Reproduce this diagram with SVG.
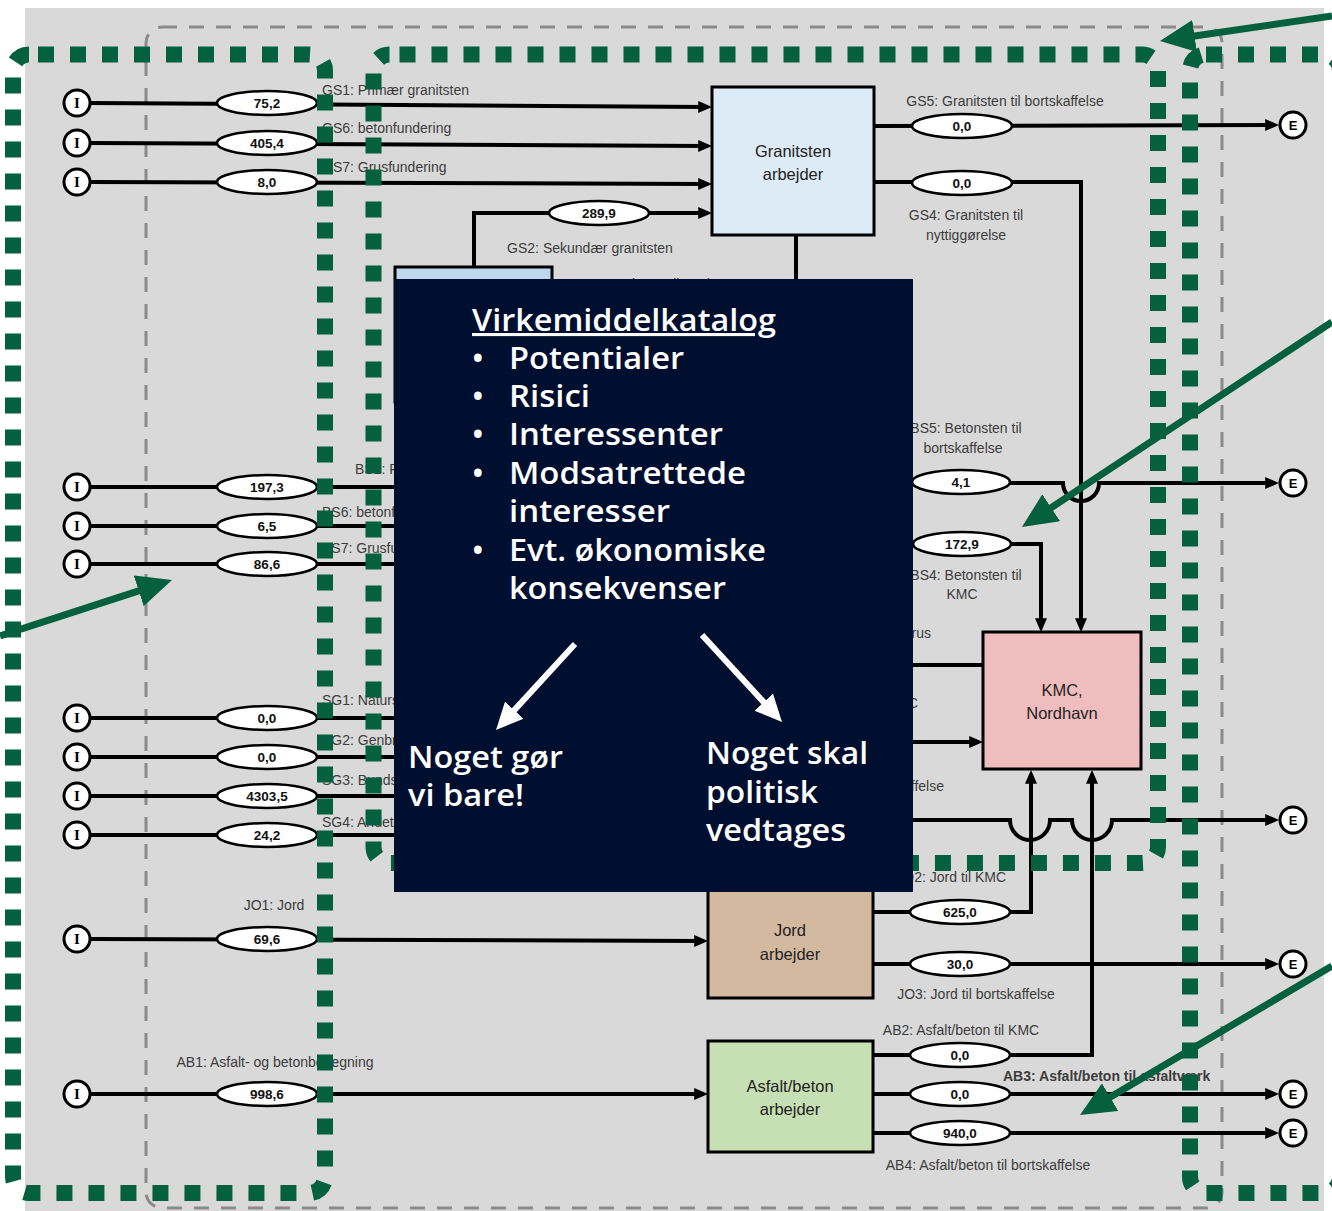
<svg xmlns="http://www.w3.org/2000/svg" width="1332" height="1211" viewBox="0 0 1332 1211">
<defs>
<style>
.flow{fill:none;stroke:#000;stroke-width:4}
.ar{marker-end:url(#ah)}
.lbl{font-family:"Liberation Sans",Arial,sans-serif;font-size:14px;fill:#3c3c3c}
.mid{text-anchor:middle}
.end{text-anchor:end}
.val{font-family:"Liberation Sans",Arial,sans-serif;font-size:13.5px;font-weight:bold;fill:#111;text-anchor:middle}
.ell{fill:#fff;stroke:#000;stroke-width:2.5}
.term{fill:#fff;stroke:#000;stroke-width:3}
.tI{font-family:"Liberation Serif",serif;font-size:15px;font-weight:bold;fill:#000;text-anchor:middle}
.tE{font-family:"Liberation Sans",sans-serif;font-size:13px;font-weight:bold;fill:#000;text-anchor:middle}
.node{stroke:#000;stroke-width:3}
.ntxt{font-family:"Liberation Sans",Arial,sans-serif;font-size:16.5px;fill:#222;text-anchor:middle}
.gdot{fill:none;stroke:#05603f;stroke-width:16;stroke-dasharray:16 16}
.garr{fill:none;stroke:#05603f;stroke-width:7;marker-end:url(#gah)}
.warr{fill:none;stroke:#fff;stroke-width:6;marker-end:url(#wah)}
.dk{font-family:"Open Sans","DejaVu Sans",sans-serif;fill:#fff;font-size:31px;font-weight:600}
</style>
<marker id="ah" viewBox="0 0 10 10" markerWidth="3.5" markerHeight="3" refX="7" refY="5" orient="auto" preserveAspectRatio="none"><path d="M0,0 L10,5 L0,10 z" fill="#000"/></marker>
<marker id="gah" viewBox="0 0 10 10" markerWidth="5" markerHeight="4.6" refX="3" refY="5" orient="auto" preserveAspectRatio="none"><path d="M0,0 L10,5 L0,10 z" fill="#05603f"/></marker>
<marker id="wah" viewBox="0 0 10 10" markerWidth="4.5" markerHeight="4.2" refX="3" refY="5" orient="auto" preserveAspectRatio="none"><path d="M0,0 L10,5 L0,10 z" fill="#fff"/></marker>
</defs>

<rect x="0" y="0" width="1332" height="1211" fill="#fff"/>
<rect x="25" y="8" width="1299" height="1203" fill="#d9d9d9"/>

<rect id="system-boundary" x="146" y="27" width="1076" height="1181" rx="16" fill="none" stroke="#8a8a8a" stroke-width="3" stroke-dasharray="15 12"/>

<g id="connectors">
<path class="flow ar" d="M90,103 L708,107"/>
<path class="flow ar" d="M90,143 L708,146"/>
<path class="flow ar" d="M90,182 L708,184"/>
<path class="flow ar" d="M474,267 V213 H708"/>
<path class="flow" d="M796,235 V280"/>
<path class="flow ar" d="M875,126 L1275,125"/>
<path class="flow ar" d="M875,182 H1081 V628"/>
<path class="flow" d="M90,487 H400"/>
<path class="flow" d="M90,526 H400"/>
<path class="flow" d="M90,564 H400"/>
<path class="flow" d="M90,718 H400"/>
<path class="flow" d="M90,757 H400"/>
<path class="flow" d="M90,796 H400"/>
<path class="flow" d="M90,835 H400"/>
<path class="flow ar" d="M905,483 H1063 A18,18 0 0 0 1099,483 H1275"/>
<path class="flow ar" d="M905,544 H1041 V628"/>
<path class="flow" d="M905,665 H983"/>
<path class="flow ar" d="M905,742 H979"/>
<path class="flow ar" d="M905,820 H1010 A20,20 0 0 0 1050,820 H1072 A20,20 0 0 0 1112,820 H1275"/>
<path class="flow ar" d="M90,939 L704,941"/>
<path class="flow ar" d="M873,912 H1031 V774"/>
<path class="flow ar" d="M873,964 H1275"/>
<path class="flow ar" d="M90,1094 H704"/>
<path class="flow ar" d="M873,1055 H1092 V774"/>
<path class="flow ar" d="M873,1094 H1275"/>
<path class="flow ar" d="M873,1133 H1275"/>
</g>

<g id="inputs">
<circle class="term" cx="77" cy="103" r="13"/><text class="tI" x="77" y="108">I</text>
<circle class="term" cx="77" cy="143" r="13"/><text class="tI" x="77" y="148">I</text>
<circle class="term" cx="77" cy="182" r="13"/><text class="tI" x="77" y="187">I</text>
<circle class="term" cx="77" cy="487" r="13"/><text class="tI" x="77" y="492">I</text>
<circle class="term" cx="77" cy="526" r="13"/><text class="tI" x="77" y="531">I</text>
<circle class="term" cx="77" cy="564" r="13"/><text class="tI" x="77" y="569">I</text>
<circle class="term" cx="77" cy="718" r="13"/><text class="tI" x="77" y="723">I</text>
<circle class="term" cx="77" cy="757" r="13"/><text class="tI" x="77" y="762">I</text>
<circle class="term" cx="77" cy="796" r="13"/><text class="tI" x="77" y="801">I</text>
<circle class="term" cx="77" cy="835" r="13"/><text class="tI" x="77" y="840">I</text>
<circle class="term" cx="77" cy="939" r="13"/><text class="tI" x="77" y="944">I</text>
<circle class="term" cx="77" cy="1094" r="13"/><text class="tI" x="77" y="1099">I</text>
</g>

<g id="outputs">
<circle class="term" cx="1293" cy="125" r="13"/><text class="tE" x="1293" y="130">E</text>
<circle class="term" cx="1293" cy="483" r="13"/><text class="tE" x="1293" y="488">E</text>
<circle class="term" cx="1293" cy="820" r="13"/><text class="tE" x="1293" y="825">E</text>
<circle class="term" cx="1293" cy="964" r="13"/><text class="tE" x="1293" y="969">E</text>
<circle class="term" cx="1293" cy="1094" r="13"/><text class="tE" x="1293" y="1099">E</text>
<circle class="term" cx="1293" cy="1133" r="13"/><text class="tE" x="1293" y="1138">E</text>
</g>

<g id="values">
<ellipse class="ell" cx="267" cy="103" rx="50" ry="12"/><text class="val" x="267" y="108">75,2</text>
<ellipse class="ell" cx="267" cy="143" rx="50" ry="12"/><text class="val" x="267" y="148">405,4</text>
<ellipse class="ell" cx="267" cy="182" rx="50" ry="12"/><text class="val" x="267" y="187">8,0</text>
<ellipse class="ell" cx="599" cy="213" rx="50" ry="12"/><text class="val" x="599" y="218">289,9</text>
<ellipse class="ell" cx="962" cy="126" rx="50" ry="12"/><text class="val" x="962" y="131">0,0</text>
<ellipse class="ell" cx="962" cy="183" rx="50" ry="12"/><text class="val" x="962" y="188">0,0</text>
<ellipse class="ell" cx="267" cy="487" rx="50" ry="12"/><text class="val" x="267" y="492">197,3</text>
<ellipse class="ell" cx="267" cy="526" rx="50" ry="12"/><text class="val" x="267" y="531">6,5</text>
<ellipse class="ell" cx="267" cy="564" rx="50" ry="12"/><text class="val" x="267" y="569">86,6</text>
<ellipse class="ell" cx="961" cy="482" rx="49" ry="12"/><text class="val" x="961" y="487">4,1</text>
<ellipse class="ell" cx="962" cy="544" rx="49" ry="12"/><text class="val" x="962" y="549">172,9</text>
<ellipse class="ell" cx="267" cy="718" rx="50" ry="12"/><text class="val" x="267" y="723">0,0</text>
<ellipse class="ell" cx="267" cy="757" rx="50" ry="12"/><text class="val" x="267" y="762">0,0</text>
<ellipse class="ell" cx="267" cy="796" rx="50" ry="12"/><text class="val" x="267" y="801">4303,5</text>
<ellipse class="ell" cx="267" cy="835" rx="50" ry="12"/><text class="val" x="267" y="840">24,2</text>
<ellipse class="ell" cx="267" cy="939" rx="50" ry="12"/><text class="val" x="267" y="944">69,6</text>
<ellipse class="ell" cx="960" cy="912" rx="50" ry="12"/><text class="val" x="960" y="917">625,0</text>
<ellipse class="ell" cx="960" cy="964" rx="50" ry="12"/><text class="val" x="960" y="969">30,0</text>
<ellipse class="ell" cx="267" cy="1094" rx="50" ry="12"/><text class="val" x="267" y="1099">998,6</text>
<ellipse class="ell" cx="960" cy="1055" rx="50" ry="12"/><text class="val" x="960" y="1060">0,0</text>
<ellipse class="ell" cx="960" cy="1094" rx="50" ry="12"/><text class="val" x="960" y="1099">0,0</text>
<ellipse class="ell" cx="960" cy="1133" rx="50" ry="12"/><text class="val" x="960" y="1138">940,0</text>
</g>

<g id="flow-labels">
<text class="lbl" x="322" y="95">GS1: Primær granitsten</text>
<text class="lbl" x="322" y="133">GS6: betonfundering</text>
<text class="lbl" x="322" y="172">GS7: Grusfundering</text>
<text class="lbl mid" x="590" y="253">GS2: Sekundær granitsten</text>
<text class="lbl" x="565" y="289">GS3: Granitsten til genbrug</text>
<text class="lbl mid" x="1005" y="106">GS5: Granitsten til bortskaffelse</text>
<text class="lbl mid" x="966" y="220">GS4: Granitsten til</text>
<text class="lbl mid" x="966" y="240">nyttiggørelse</text>
<text class="lbl" x="355" y="474">BS1: P</text>
<text class="lbl" x="322" y="517">BS6: betonf</text>
<text class="lbl" x="322" y="553">BS7: Grusfu</text>
<text class="lbl mid" x="966" y="433">BS5: Betonsten til</text>
<text class="lbl mid" x="963" y="453">bortskaffelse</text>
<text class="lbl mid" x="966" y="580">BS4: Betonsten til</text>
<text class="lbl mid" x="962" y="599">KMC</text>
<text class="lbl end" x="931" y="638">grus</text>
<text class="lbl end" x="918" y="708">KMC</text>
<text class="lbl end" x="944" y="791">kaffelse</text>
<text class="lbl" x="322" y="705">SG1: Naturs</text>
<text class="lbl" x="322" y="745">SG2: Genbr</text>
<text class="lbl" x="322" y="785">SG3: Bunds</text>
<text class="lbl" x="322" y="827">SG4: Andet</text>
<text class="lbl mid" x="274" y="910">JO1: Jord</text>
<text class="lbl end" x="1006" y="882">JO2: Jord til KMC</text>
<text class="lbl mid" x="976" y="999">JO3: Jord til bortskaffelse</text>
<text class="lbl mid" x="275" y="1067">AB1: Asfalt- og betonbelægning</text>
<text class="lbl mid" x="961" y="1035">AB2: Asfalt/beton til KMC</text>
<text class="lbl" x="1003" y="1081" font-weight="bold" fill="#222">AB3: Asfalt/beton til asfaltværk</text>
<text class="lbl mid" x="988" y="1170">AB4: Asfalt/beton til bortskaffelse</text>
</g>

<g id="node-granitsten">
<rect class="node" x="712" y="87" width="162" height="148" fill="#ddebf7"/>
<text class="ntxt" x="793" y="157">Granitsten</text>
<text class="ntxt" x="793" y="180">arbejder</text>
</g>
<g id="node-betonsten">
<rect class="node" x="395" y="267" width="157" height="135" fill="#bdd7ee"/>
</g>
<g id="node-kmc">
<rect class="node" x="983" y="632" width="158" height="137" fill="#efbdbd"/>
<text class="ntxt" x="1062" y="696">KMC,</text>
<text class="ntxt" x="1062" y="719">Nordhavn</text>
</g>
<g id="node-jord">
<rect class="node" x="708" y="880" width="165" height="118" fill="#d3b9a0"/>
<text class="ntxt" x="790" y="936">Jord</text>
<text class="ntxt" x="790" y="960">arbejder</text>
</g>
<g id="node-asfalt">
<rect class="node" x="708" y="1041" width="165" height="111" fill="#c6e0b4"/>
<text class="ntxt" x="790" y="1092">Asfalt/beton</text>
<text class="ntxt" x="790" y="1115">arbejder</text>
</g>

<g id="green-frames">
<rect class="gdot" x="13" y="54.5" width="312" height="1138.5" rx="16" stroke-dashoffset="23"/>
<rect class="gdot" x="373.5" y="54.5" width="784.5" height="808.5" rx="16" stroke-dashoffset="22"/>
<rect class="gdot" x="1190" y="54.5" width="150" height="1138.5" rx="16" stroke-dashoffset="0"/>
</g>

<g id="catalog-panel">
<rect x="394" y="279" width="519" height="613" fill="#000e2f"/>
<text class="dk" x="472" y="331" font-weight="700" text-decoration="underline" textLength="304" lengthAdjust="spacingAndGlyphs">Virkemiddelkatalog</text>
<text class="dk" x="472" y="369">•</text><text class="dk" x="509" y="369" textLength="175" lengthAdjust="spacingAndGlyphs">Potentialer</text>
<text class="dk" x="472" y="407">•</text><text class="dk" x="509" y="407" textLength="81" lengthAdjust="spacingAndGlyphs">Risici</text>
<text class="dk" x="472" y="445">•</text><text class="dk" x="509" y="445" textLength="214" lengthAdjust="spacingAndGlyphs">Interessenter</text>
<text class="dk" x="472" y="484">•</text><text class="dk" x="509" y="484" textLength="237" lengthAdjust="spacingAndGlyphs">Modsatrettede</text>
<text class="dk" x="509" y="522" textLength="161" lengthAdjust="spacingAndGlyphs">interesser</text>
<text class="dk" x="472" y="561">•</text><text class="dk" x="509" y="561" textLength="257" lengthAdjust="spacingAndGlyphs">Evt. økonomiske</text>
<text class="dk" x="509" y="599" textLength="217" lengthAdjust="spacingAndGlyphs">konsekvenser</text>
<path class="warr" d="M575,644 L508.8,716.1"/>
<path class="warr" d="M702,635 L769.2,708.1"/>
<text class="dk" x="408" y="768" textLength="155" lengthAdjust="spacingAndGlyphs">Noget gør</text>
<text class="dk" x="408" y="806" textLength="116" lengthAdjust="spacingAndGlyphs">vi bare!</text>
<text class="dk" x="706" y="764" textLength="162" lengthAdjust="spacingAndGlyphs">Noget skal</text>
<text class="dk" x="706" y="803" textLength="112" lengthAdjust="spacingAndGlyphs">politisk</text>
<text class="dk" x="706" y="841" textLength="140" lengthAdjust="spacingAndGlyphs">vedtages</text>
</g>

<g id="green-arrows">
<path class="garr" d="M1332,16 L1184.2,37.5"/>
<path class="garr" d="M1332,322 L1042.4,513.5"/>
<path class="garr" d="M0,636 L148.7,587.6"/>
<path class="garr" d="M1332,966 L1101.1,1102.5"/>
</g>
</svg>
